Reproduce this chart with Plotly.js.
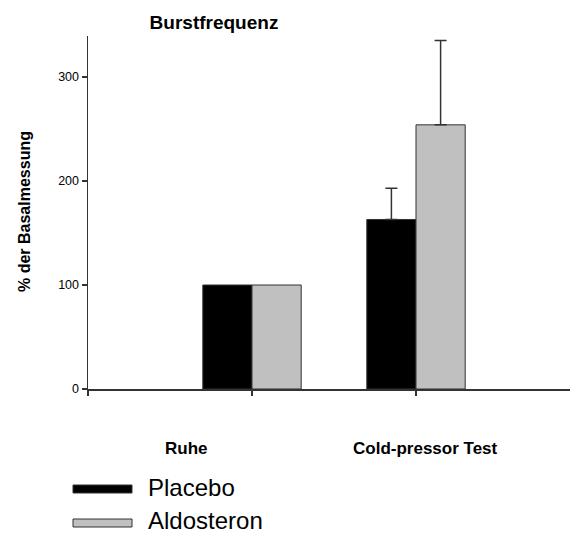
<!DOCTYPE html>
<html>
<head>
<meta charset="utf-8">
<script src="https://cdn.plot.ly/plotly-3.0.1.min.js"></script>
<style>html,body{margin:0;padding:0;background:#fff;}#chart{width:571px;height:535px;}</style>
</head>
<body>
<div id="chart"></div>
<script>
// ---- data ----
const categories = ["Ruhe", "Cold-pressor Test"];
const seriesNames = ["Placebo", "Aldosteron"];
const placeboValues = [100, 163];
const placeboErrors = [null, 30];
const aldosteronValues = [100, 254];
const aldosteronErrors = [null, 81];
const yTickValues = [0, 100, 200, 300];
const chartTitle = "Burstfrequenz";
const yTitle = "% der Basalmessung";

// ---- drawing ----
const xPos = categories.map((c, i) => i + 1);
const FONT = "Liberation Sans, Arial, sans-serif";
const colors = ["#000000", "#c0c0c0"];
const values = [placeboValues, aldosteronValues];
const errors = [placeboErrors, aldosteronErrors];

const traces = seriesNames.map((name, k) => ({
  type: "bar",
  name: name,
  x: xPos,
  y: values[k],
  marker: {color: colors[k], line: {color: "#333333", width: 1}},
  error_y: {
    type: "data", symmetric: false,
    array: errors[k].map(e => (e === null ? NaN : e)),
    arrayminus: errors[k].map(e => (e === null ? NaN : 0)),
    color: "#333333", thickness: 1.5, width: 6
  },
  showlegend: false,
  hoverinfo: "skip"
}));

// plot-area pixel geometry helpers (for labels / legend placement)
const L = 88, T = 36, W = 482, H = 353;
const px = x => (x - L) / W;
const py = y => (T + H - y) / H;

const annotations = [];
const catLabelX = [186, 425];
categories.forEach((c, i) => annotations.push({
  text: "<b>" + c + "</b>", xref: "paper", yref: "paper",
  x: px(catLabelX[i]), y: py(449), xanchor: "center", yanchor: "middle",
  showarrow: false, font: {family: FONT, size: 17, color: "#000"}
}));

annotations.push({
  text: "<b>" + yTitle + "</b>", xref: "paper", yref: "paper",
  x: px(24), y: py(212), xanchor: "center", yanchor: "middle", textangle: -90,
  showarrow: false, font: {family: FONT, size: 16, color: "#000"}
});

const shapes = [];
const legY = [489, 523];
const legTextBottom = [502, 534.5];
seriesNames.forEach((n, k) => {
  shapes.push({
    type: "rect", xref: "paper", yref: "paper",
    x0: px(73), x1: px(132), y0: py(legY[k] - 4), y1: py(legY[k] + 4),
    fillcolor: colors[k], line: {color: "#333333", width: 1}
  });
  annotations.push({
    text: n, xref: "paper", yref: "paper",
    x: px(147), y: py(legTextBottom[k]), xanchor: "left", yanchor: "bottom",
    borderpad: 0, showarrow: false, font: {family: FONT, size: 24, color: "#000"}
  });
});

const layout = {
  width: 571, height: 535,
  margin: {l: L, r: 571 - L - W, t: T, b: 535 - T - H, pad: 0},
  paper_bgcolor: "#ffffff", plot_bgcolor: "#ffffff",
  title: {
    text: "<b>" + chartTitle + "</b>", xref: "container", yref: "container",
    x: 214 / 571, xanchor: "center", y: 1 - 22 / 535, yanchor: "middle",
    font: {family: FONT, size: 19, color: "#000"}
  },
  barmode: "group", bargap: 0.4, bargroupgap: 0,
  xaxis: {
    range: [0, W / 164], tickvals: [0, 1, 2], showticklabels: false,
    ticks: "outside", ticklen: 5, tickwidth: 1.5, tickcolor: "#333333",
    showline: true, linecolor: "#333333", linewidth: 1.5,
    showgrid: false, zeroline: false, fixedrange: true
  },
  yaxis: {
    range: [0, H / 1.04], tickvals: yTickValues,
    ticks: "outside", ticklen: 5, tickwidth: 1.5, tickcolor: "#333333",
    tickfont: {family: FONT, size: 12.5, color: "#000"},
    showline: true, linecolor: "#333333", linewidth: 1.5,
    showgrid: false, zeroline: false, fixedrange: true
  },
  annotations: annotations,
  shapes: shapes,
  showlegend: false
};

Plotly.newPlot("chart", traces, layout, {displayModeBar: false, staticPlot: true});
</script>
</body>
</html>
